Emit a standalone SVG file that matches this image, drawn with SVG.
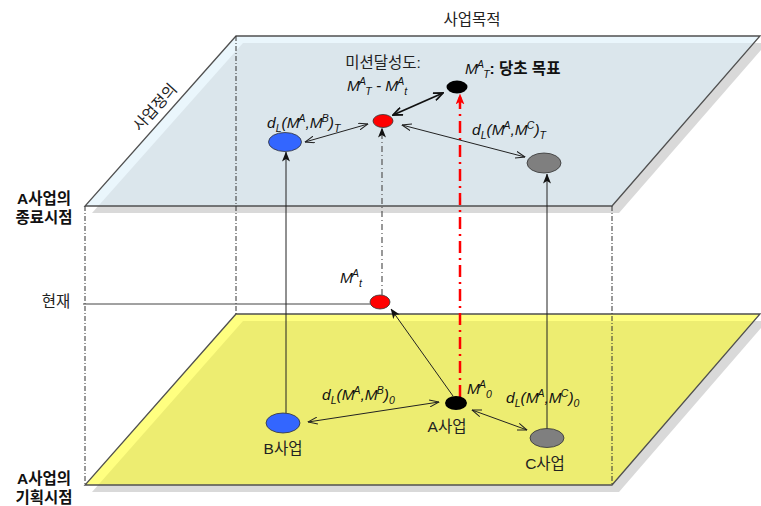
<svg xmlns="http://www.w3.org/2000/svg" width="761" height="506" viewBox="0 0 761 506">
<style>
.k{font-family:"Liberation Sans","Noto Sans CJK KR",sans-serif;font-size:15.5px;fill:#222}
.kb{font-family:"Liberation Sans","Noto Sans CJK KR",sans-serif;font-size:15.5px;font-weight:bold;font-style:normal;fill:#111}
.m{font-family:"Liberation Sans","Noto Sans CJK KR",sans-serif;font-size:15.5px;font-style:italic;fill:#111}
.s{font-size:10.5px}
.edge{stroke:#505050;stroke-width:1.3;fill:none}
.guide{stroke:#333;stroke-width:1;stroke-dasharray:5 2 1 2;fill:none}
.c{stroke:#222;stroke-width:1;fill:none}
</style>
<defs>
<clipPath id="clipTop"><polygon points="236,36 760,36 612,206 85,206"/></clipPath>
<clipPath id="clipBot"><polygon points="236,314 760,314 612,485 85,485"/></clipPath>
<marker id="fa" viewBox="0 0 10 8" refX="9.5" refY="4" markerWidth="10" markerHeight="8" markerUnits="userSpaceOnUse" orient="auto-start-reverse"><path d="M0,0 L10,4 L0,8 L2.5,4 z" fill="#111"/></marker>
<marker id="fr" viewBox="0 0 10 8" refX="9.5" refY="4" markerWidth="11" markerHeight="9" markerUnits="userSpaceOnUse" orient="auto-start-reverse"><path d="M0,0 L10,4 L0,8 L2.5,4 z" fill="#ff0000"/></marker>
<marker id="oa" viewBox="0 0 10 8" refX="9.5" refY="4" markerWidth="10" markerHeight="8" markerUnits="userSpaceOnUse" orient="auto-start-reverse"><path d="M0,0.5 L9.5,4 L0,7.5" fill="none" stroke="#222" stroke-width="1"/></marker>
<marker id="ob" viewBox="0 0 10 8" refX="9" refY="4" markerWidth="11" markerHeight="9" markerUnits="userSpaceOnUse" orient="auto-start-reverse"><path d="M0.5,0.5 L9,4 L0.5,7.5" fill="none" stroke="#111" stroke-width="1.6"/></marker>
</defs>

<g id="plane-top">
<polygon points="243,43 767,43 619,213 92,213" fill="#d9d9d9"/>
<polygon points="236,36 760,36 612,206 85,206" fill="#eaf6fc"/>
<polygon clip-path="url(#clipTop)" points="243,43 767,43 619,213 92,213" fill="#dbe6ec"/>
<polygon points="236,36 760,36 612,206 85,206" class="edge"/>
</g>
<g id="plane-bottom">
<polygon points="243,321 767,321 619,492 92,492" fill="#d9d9d9"/>
<polygon points="236,314 760,314 612,485 85,485" fill="#ffff80"/>
<polygon clip-path="url(#clipBot)" points="243,321 767,321 619,492 92,492" fill="#eded71"/>
<polygon points="236,314 760,314 612,485 85,485" class="edge"/>
</g>

<g id="guides">
<line x1="85" y1="206" x2="85" y2="485" class="guide"/>
<line x1="236" y1="36" x2="236" y2="314" class="guide"/>
<line x1="612" y1="206" x2="612" y2="485" class="guide"/>
<line x1="83" y1="304" x2="370" y2="304" stroke="#444" stroke-width="1"/>
</g>

<g id="connectors">
<line x1="286" y1="413" x2="286" y2="152" class="c" marker-end="url(#fa)"/>
<line x1="547" y1="429" x2="547" y2="174" class="c" marker-end="url(#fa)"/>
<line x1="382" y1="295" x2="382" y2="128" stroke="#555" stroke-width="1.2" stroke-dasharray="6 3 1 3" marker-end="url(#fa)"/>
<line x1="460" y1="397" x2="460" y2="94" stroke="#ff0000" stroke-width="2.5" stroke-dasharray="12 5 2 5" marker-end="url(#fr)"/>
<line x1="453" y1="396" x2="391" y2="309" class="c" marker-end="url(#fa)"/>
<line x1="443" y1="93" x2="393" y2="115" stroke="#111" stroke-width="1.8" marker-start="url(#ob)" marker-end="url(#ob)"/>
<line x1="305" y1="142" x2="368" y2="124" class="c" marker-start="url(#oa)" marker-end="url(#oa)"/>
<line x1="402" y1="125" x2="525" y2="157" class="c" marker-start="url(#oa)" marker-end="url(#oa)"/>
<line x1="308" y1="422" x2="439" y2="402" class="c" marker-start="url(#oa)" marker-end="url(#oa)"/>
<line x1="472" y1="410" x2="527" y2="430" class="c" marker-start="url(#oa)" marker-end="url(#oa)"/>
</g>

<g id="node-goal">
<ellipse cx="457" cy="87" rx="10.5" ry="6.5" fill="#000"/>
<text class="m" x="465" y="74">M<tspan class="s" dx="-1" dy="-6">A</tspan><tspan class="s" dy="10">T</tspan><tspan class="kb" dy="-4">: 당초 목표</tspan></text>
</g>
<g id="node-mission">
<ellipse cx="383" cy="121" rx="10" ry="6.5" fill="#ff0000" stroke="#333" stroke-width="0.8"/>
<text class="k" x="383" y="68" text-anchor="middle" font-size="16">미션달성도:</text>
<text class="m" x="347" y="91">M<tspan class="s" dx="-1" dy="-6">A</tspan><tspan class="s" dy="10">T</tspan><tspan dy="-4"> - M</tspan><tspan class="s" dx="-1" dy="-6">A</tspan><tspan class="s" dy="10">t</tspan></text>
</g>
<g id="node-b-target">
<ellipse cx="285" cy="142" rx="16.5" ry="9.5" fill="#3366ff" stroke="#333" stroke-width="0.8"/>
<text class="m" x="267" y="128">d<tspan class="s" dy="4">L</tspan><tspan dy="-4">(M</tspan><tspan class="s" dx="-1" dy="-6">A</tspan><tspan dy="6">,M</tspan><tspan class="s" dx="-1" dy="-6">B</tspan><tspan dy="6">)</tspan><tspan class="s" dy="4">T</tspan></text>
</g>
<g id="node-c-target">
<ellipse cx="544" cy="163" rx="17" ry="10" fill="#7f7f7f" stroke="#333" stroke-width="0.8"/>
<text class="m" x="472" y="135">d<tspan class="s" dy="4">L</tspan><tspan dy="-4">(M</tspan><tspan class="s" dx="-1" dy="-6">A</tspan><tspan dy="6">,M</tspan><tspan class="s" dx="-1" dy="-6">C</tspan><tspan dy="6">)</tspan><tspan class="s" dy="4">T</tspan></text>
</g>
<g id="node-now">
<ellipse cx="380" cy="302" rx="10" ry="7" fill="#ff0000" stroke="#333" stroke-width="0.8"/>
<text class="m" x="340" y="283">M<tspan class="s" dx="-1" dy="-6">A</tspan><tspan class="s" dy="10">t</tspan></text>
</g>
<g id="node-a">
<ellipse cx="456" cy="403" rx="11" ry="7" fill="#000"/>
<text class="m" x="467" y="394">M<tspan class="s" dx="-1" dy="-6">A</tspan><tspan class="s" dy="10">0</tspan></text>
<text class="k" x="447" y="432" text-anchor="middle">A사업</text>
<text class="m" x="322" y="400">d<tspan class="s" dy="4">L</tspan><tspan dy="-4">(M</tspan><tspan class="s" dx="-1" dy="-6">A</tspan><tspan dy="6">,M</tspan><tspan class="s" dx="-1" dy="-6">B</tspan><tspan dy="6">)</tspan><tspan class="s" dy="4">0</tspan></text>
<text class="m" x="506" y="403">d<tspan class="s" dy="4">L</tspan><tspan dy="-4">(M</tspan><tspan class="s" dx="-1" dy="-6">A</tspan><tspan dy="6">,M</tspan><tspan class="s" dx="-1" dy="-6">C</tspan><tspan dy="6">)</tspan><tspan class="s" dy="4">0</tspan></text>
</g>
<g id="node-b">
<ellipse cx="283" cy="423" rx="17" ry="10" fill="#3366ff" stroke="#333" stroke-width="0.8"/>
<text class="k" x="283" y="454" text-anchor="middle">B사업</text>
</g>
<g id="node-c">
<ellipse cx="547" cy="438" rx="17" ry="9.5" fill="#7f7f7f" stroke="#333" stroke-width="0.8"/>
<text class="k" x="545" y="469" text-anchor="middle">C사업</text>
</g>

<g id="labels">
<text class="k" x="472" y="25" text-anchor="middle" font-size="16.5">사업목적</text>
<text class="k" x="0" y="0" text-anchor="middle" font-size="17" transform="translate(159,111) rotate(-48.5)">사업정의</text>
<text class="kb" x="44" y="204" text-anchor="middle" font-size="16">A사업의</text>
<text class="kb" x="44" y="223" text-anchor="middle" font-size="16">종료시점</text>
<text class="k" x="56" y="307" text-anchor="middle" font-size="16">현재</text>
<text class="kb" x="44" y="484" text-anchor="middle" font-size="16">A사업의</text>
<text class="kb" x="44" y="503" text-anchor="middle" font-size="16">기획시점</text>
</g>
</svg>
